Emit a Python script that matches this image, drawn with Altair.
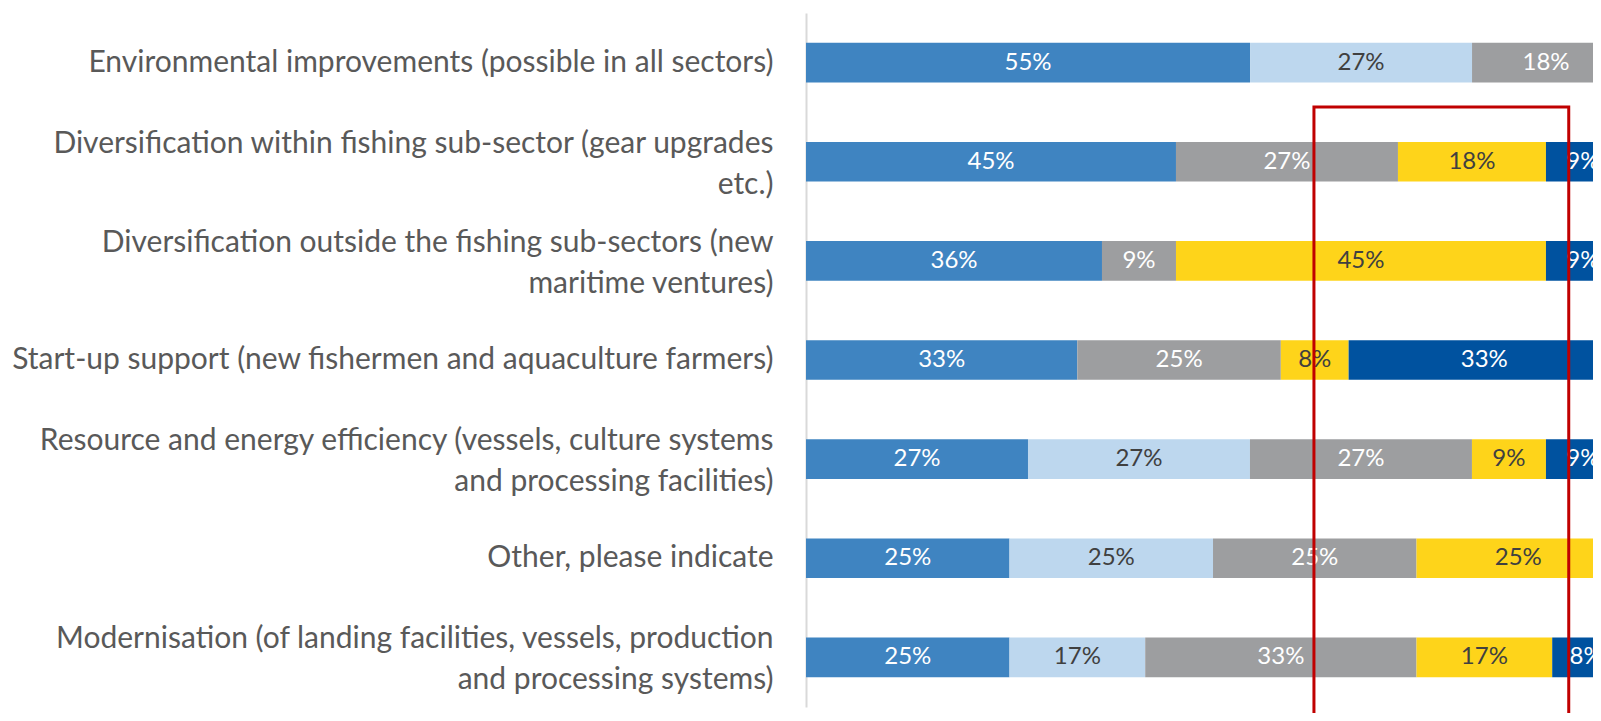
import altair as alt
import pandas as pd

categories = [
    "Environmental improvements (possible in all sectors)",
    "Diversification within fishing sub-sector (gear upgrades|etc.)",
    "Diversification outside the fishing sub-sectors (new|maritime ventures)",
    "Start-up support (new fishermen and aquaculture farmers)",
    "Resource and energy efficiency (vessels, culture systems|and processing facilities)",
    "Other, please indicate",
    "Modernisation (of landing facilities, vessels, production|and processing systems)",
]

series_names = ["Series 1", "Series 2", "Series 3", "Series 4", "Series 5"]
s1 = [54.55, 45.45, 36.36, 33.33, 27.27, 25.0, 25.0]
s2 = [27.27, 0.0, 0.0, 0.0, 27.27, 25.0, 16.67]
s3 = [18.18, 27.27, 9.09, 25.0, 27.27, 25.0, 33.33]
s4 = [0.0, 18.18, 45.45, 8.33, 9.09, 25.0, 16.67]
s5 = [0.0, 9.09, 9.09, 33.33, 9.09, 0.0, 8.33]
series_values = [s1, s2, s3, s4, s5]

bar_colors = ["#3F84C1", "#BDD7EE", "#9D9EA0", "#FED41A", "#00529F"]
text_colors = ["#FFFFFF", "#404040", "#FFFFFF", "#404040", "#FFFFFF"]

highlight_x = [62.4]
highlight_x2 = [93.7]

rows = []
for i, cat in enumerate(categories):
    for j, (name, vals) in enumerate(zip(series_names, series_values)):
        if vals[i] > 0:
            rows.append({"category": cat, "series": name, "idx": j, "value": vals[i]})
df = pd.DataFrame(rows)

FONT = "Lato"

base = alt.Chart(df).transform_stack(
    stack="value",
    groupby=["category"],
    as_=["x0", "x1"],
    sort=[alt.SortField("idx", order="ascending")],
).transform_calculate(
    mid="(datum.x0 + datum.x1) / 2",
    label="format(datum.value, '.0f') + '%'",
)

xscale = alt.Scale(domain=[0, 96.68], nice=False, zero=True)
yenc = alt.Y(
    "category:N",
    sort=categories,
    scale=alt.Scale(paddingInner=0.6, paddingOuter=0.3),
    axis=alt.Axis(
        title=None,
        labelExpr="split(datum.value, '|')",
        labelFont=FONT,
        labelFontSize=30,
        labelColor="#595959",
        labelLimit=2000,
        labelPadding=33,
        labelLineHeight=41,
        labelOffset={"condition": {"test": "indexof(datum.value, '|') >= 0", "value": -18}, "value": 0},
        ticks=False,
        grid=False,
        domainColor="#D9D9D9",
        domainWidth=2,
    ),
)

bars = base.mark_bar(clip=True).encode(
    x=alt.X("x0:Q", scale=xscale, axis=None),
    x2="x1:Q",
    y=yenc,
    color=alt.Color("series:N", scale=alt.Scale(domain=series_names, range=bar_colors), legend=None),
)

texts = base.mark_text(font=FONT, fontSize=24, align="center", baseline="middle").encode(
    x=alt.X("mid:Q", scale=xscale, axis=None),
    y=yenc,
    text="label:N",
    color=alt.Color("series:N", scale=alt.Scale(domain=series_names, range=text_colors), legend=None),
)

box = alt.Chart(pd.DataFrame({"x": highlight_x, "x2": highlight_x2})).mark_rect(
    filled=False, stroke="#C00000", strokeWidth=3, clip=False
).encode(
    x=alt.X("x:Q", scale=xscale, axis=None),
    x2="x2:Q",
    y=alt.value(94),
    y2=alt.value(720),
)

chart = alt.layer(bars, texts, box).resolve_scale(color="independent").properties(
    width=787,
    height=694,
    autosize=alt.AutoSizeParams(type="none"),
    padding={"left": 798, "top": 5, "right": 0, "bottom": 6},
    background="white",
).configure_view(stroke=None)

chart.save("out.html", embed_options={"renderer": "svg", "actions": False})
